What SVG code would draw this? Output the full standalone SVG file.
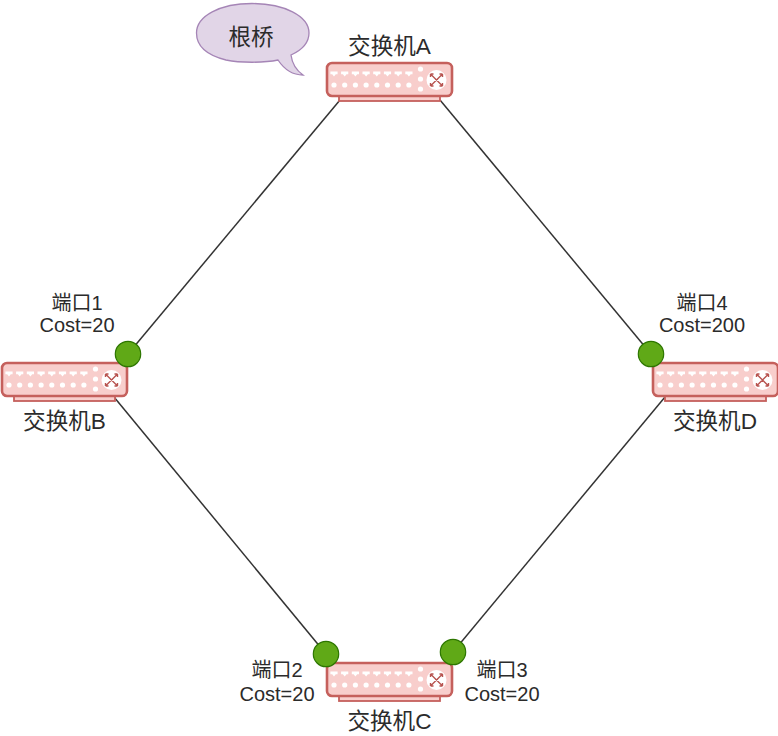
<svg xmlns="http://www.w3.org/2000/svg" xmlns:xlink="http://www.w3.org/1999/xlink" width="778" height="736" viewBox="0 0 778 736">
<style>
text{font-family:"Liberation Sans","Noto Sans CJK SC",sans-serif;fill:#2b2b2b;text-anchor:middle}
.name{font-size:22.6px}
.port{font-size:20px}
.link{stroke:#333;stroke-width:1.5;fill:none}
.dot{fill:#60a917;stroke:#2d7600;stroke-width:1.2}
.sw{fill:#f8cecc;stroke:#c5605c;stroke-width:2.6}
.w{fill:#fff}
.x{stroke:#b85450;stroke-width:1.4;fill:none}
</style>
<defs>
<g id="p"><path class="w" d="M-3.600-2.500h7.200v2.800l-1.800 0-1.800 2.200-1.800-2.200-1.800 0z"/></g>
<g id="switch">
<rect class="sw" x="13" y="34" width="101" height="5" style="stroke-width:1.8"/>
<rect class="sw" x="1" y="1" width="125" height="33" rx="5"/>
<use xlink:href="#p" x="8" y="12"/><use xlink:href="#p" x="18.700" y="12"/><use xlink:href="#p" x="29.400" y="12"/><use xlink:href="#p" x="40.100" y="12"/><use xlink:href="#p" x="50.800" y="12"/><use xlink:href="#p" x="61.500" y="12"/><use xlink:href="#p" x="72.200" y="12"/><use xlink:href="#p" x="82.900" y="12"/>
<g class="w"><circle cx="8" cy="23" r="2.600"/><circle cx="18.700" cy="23" r="2.600"/><circle cx="29.400" cy="23" r="2.600"/><circle cx="40.100" cy="23" r="2.600"/><circle cx="50.800" cy="23" r="2.600"/><circle cx="61.500" cy="23" r="2.600"/><circle cx="72.200" cy="23" r="2.600"/><circle cx="82.900" cy="23" r="2.600"/><circle cx="94.500" cy="7" r="2.600"/><circle cx="94.500" cy="17" r="2.600"/><circle cx="94.500" cy="27" r="2.600"/><circle cx="110.500" cy="18" r="10"/></g>
<path class="x" d="M104.500 12L116.500 24M116.500 12L104.500 24M104.500 12h3M104.500 12v3M116.500 12h-3M116.500 12v3M104.500 24h3M104.500 24v-3M116.500 24h-3M116.500 24v-3"/>
</g>
</defs>
<g id="connectors">
<line class="link" x1="340" y1="100" x2="128" y2="354"/>
<line class="link" x1="114" y1="397" x2="326" y2="654"/>
<line class="link" x1="453" y1="652" x2="665" y2="397"/>
<line class="link" x1="651" y1="354" x2="440" y2="100"/>
</g>
<g id="callout">
<path d="M278 60C264 63 240 63 226 60C206 55 196.500 45 196.500 33C196.500 16 220 3.500 252 3.500C284 3.500 309 16 309 33C309 43 302 50 291 55C292 63 296 70 303 75C292 75 284 69 278 60Z" fill="#e1d5e7" stroke="#a585b6" stroke-width="1.300"/>
<text class="name" x="251" y="45">根桥</text>
</g>
<g id="switchA"><use xlink:href="#switch" x="326" y="62"/><text class="name" x="389.500" y="54">交换机A</text></g>
<g id="switchB"><use xlink:href="#switch" x="1" y="362"/><text class="name" x="64.500" y="429">交换机B</text></g>
<g id="switchC"><use xlink:href="#switch" x="326" y="662"/><text class="name" x="389.500" y="729">交换机C</text></g>
<g id="switchD"><use xlink:href="#switch" x="652" y="362"/><text class="name" x="715" y="429">交换机D</text></g>
<g id="port1"><circle class="dot" cx="128" cy="354" r="12.700"/><text class="port" x="77" y="310">端口1</text><text class="port" x="77" y="332">Cost=20</text></g>
<g id="port2"><circle class="dot" cx="326" cy="654" r="12.700"/><text class="port" x="277" y="677">端口2</text><text class="port" x="277" y="701">Cost=20</text></g>
<g id="port3"><circle class="dot" cx="453" cy="652" r="12.700"/><text class="port" x="502" y="677">端口3</text><text class="port" x="502" y="701">Cost=20</text></g>
<g id="port4"><circle class="dot" cx="651" cy="354" r="12.700"/><text class="port" x="702" y="310">端口4</text><text class="port" x="702" y="332">Cost=200</text></g>
</svg>
